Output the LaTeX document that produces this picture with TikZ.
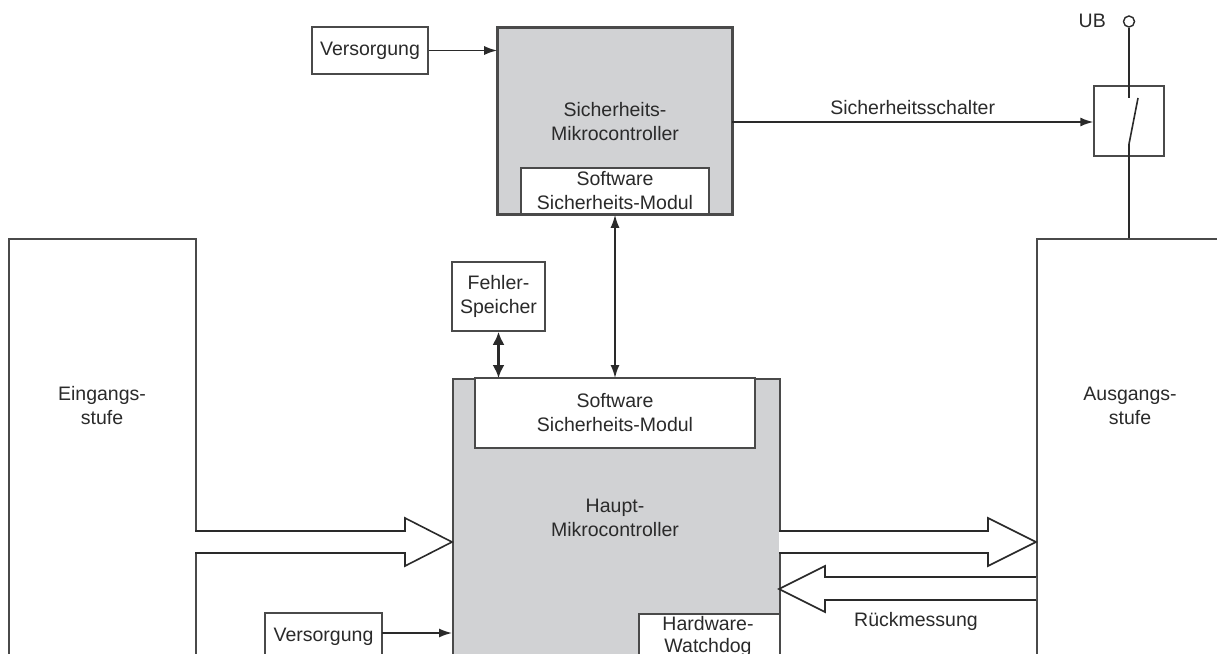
\documentclass[tikz,border=0pt]{standalone}
\usepackage{fontspec}
\setmainfont{Liberation Sans}
\usetikzlibrary{arrows.meta,calc}
\definecolor{boxgray}{HTML}{D1D2D4}
\definecolor{linegray}{HTML}{4A4A4A}
\definecolor{txt}{HTML}{2A2A2A}
\tikzset{
  blk/.style={draw=linegray, line width=1.6pt, fill=white, inner sep=0pt, text=txt, align=center, font=\fontsize{19.5}{24}\selectfont},
  grayblk/.style={blk, fill=boxgray},
  lbl/.style={inner sep=0pt, text=txt, align=center, font=\fontsize{19.5}{24}\selectfont},
  wdlbl/.style={lbl, font=\fontsize{19.5}{22}\selectfont},
  conn/.style={draw=txt, line width=1.6pt},
  arr/.style={conn, -{Latex[length=13pt,width=9pt]}},
  darr/.style={conn, {Latex[length=13pt,width=9pt]}-{Latex[length=13pt,width=9pt]}},
  fatarr/.style={draw=txt, line width=1.6pt, fill=white, line join=miter},
}
\begin{document}
\begin{tikzpicture}[x=1pt,y=-1pt]
\useasboundingbox (0,0) rectangle (1217,653);
\clip (0,0) rectangle (1217,653);
\fill[white] (0,0) rectangle (1217,653);

% Sicherheits-Mikrocontroller
\node[grayblk, minimum width=234pt, minimum height=186pt] (smc) at (615,121) {};
\node[lbl] (smctxt) at (615,122) {Sicherheits-\\Mikrocontroller};
\node[blk, minimum width=188pt, minimum height=46pt] (ssm) at (615,191) {Software\\Sicherheits-Modul};
\draw[grayblk, fill=none] (smc.north west) rectangle (smc.south east);

% Versorgung oben
\node[blk, minimum width=116pt, minimum height=47pt] (vers1) at (370,50.5) {Versorgung};
\draw[arr] (vers1.east) -- (vers1.east -| smc.west);

% Eingangsstufe
\node[blk, minimum width=187pt, minimum height=520pt, anchor=north west] (ein) at (8,238) {};
\node[lbl] (eintxt) at (102,406) {Eingangs-\\stufe};

% Ausgangsstufe
\node[blk, minimum width=200pt, minimum height=520pt, anchor=north west] (aus) at (1036,238) {};
\node[lbl] (austxt) at (1130,406) {Ausgangs-\\stufe};

% Haupt-Mikrocontroller
\node[grayblk, minimum width=327pt, minimum height=330pt, anchor=north west] (hmc) at (452,378) {};
\node[lbl] (hmctxt) at (615,518) {Haupt-\\Mikrocontroller};
\node[blk, minimum width=280pt, minimum height=70pt] (hsm) at (615,413) {Software\\Sicherheits-Modul};
\node[blk, minimum width=141pt, minimum height=90pt, anchor=north west] (wd) at (638,613) {};
\node[wdlbl] (wdtxt) at (708,636) {Hardware-\\Watchdog};

% Fehler-Speicher
\node[blk, minimum width=93pt, minimum height=69pt] (fs) at (498.5,296.5) {Fehler-\\Speicher};
\draw[conn, line width=2.4pt, {Latex[length=13pt,width=12pt]}-{Latex[length=13pt,width=12pt]}] (fs.south) -- (fs.south |- hmc.north);

% Verbindung SMC - HMC
\draw[darr] (ssm.south) -- (ssm.south |- hmc.north);

% Versorgung unten
\node[blk, minimum width=117pt, minimum height=47pt] (vers2) at (323.5,636.5) {Versorgung};
\coordinate (v2e) at (382,633);
\draw[arr] (v2e) -- (v2e -| hmc.west);

% Schalter
\node[draw=linegray, line width=1.4pt, minimum width=70pt, minimum height=70pt, inner sep=0pt] (sw) at (1129,121) {};
\node[draw=txt, line width=1.4pt, circle, minimum size=11pt, inner sep=0pt] (ub) at (1129,21.5) {};
\node[lbl, anchor=east] (ubtxt) at (1106,21) {UB};
\coordinate (c1) at (1129,98);
\coordinate (c2) at (1138,98);
\coordinate (c3) at (1129,144);
\draw[conn] (ub.south) -- (c1);
\draw[conn] (c2) -- (c3);
\draw[conn] (c3) -- (c3 |- aus.north);

% Sicherheitsschalter
\coordinate (ss0) at (732,122);
\draw[arr] (ss0) -- (ss0 -| sw.west) node[lbl, midway, above=7pt] (sstxt) {Sicherheitsschalter};

% Breite Pfeile
\coordinate (a1) at (195,531);
\draw[fatarr] (a1) -- (405,531) -- (405,518) -- (452,542) -- (405,566) -- (405,553) -- (195,553);
\coordinate (a2) at (779,531);
\draw[fatarr] (a2) -- (988,531) -- (988,518) -- (1036,542) -- (988,566) -- (988,553) -- (779,553);
\coordinate (a3) at (1036,577);
\draw[fatarr] (a3) -- (825,577) -- (825,566) -- (779,589) -- (825,612) -- (825,600) -- (1036,600);
\node[lbl] (rm) at (916,621) {Rückmessung};
\end{tikzpicture}
\end{document}
